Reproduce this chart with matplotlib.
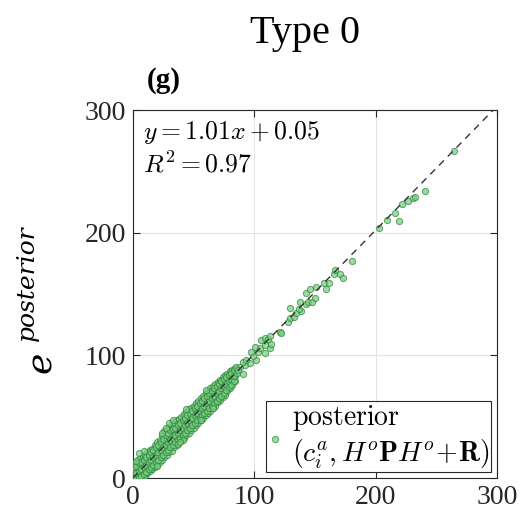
import matplotlib
matplotlib.use("Agg")
import matplotlib.pyplot as plt
import numpy as np

plt.rcParams['font.family'] = ['Liberation Serif', 'DejaVu Serif']
plt.rcParams['mathtext.fontset'] = 'cm'

# Error pairs: x = reference error, y = posterior error.
# Dense low-error band, listed column by column.
x_band_a = [0, 0, 0, 0, 2, 2, 2, 2, 4, 4, 4, 4, 6, 6, 6, 6, 8, 8, 8, 8,
            10, 10, 10, 10, 12, 12, 12, 12, 14, 14, 14, 14, 16, 16, 16, 16,
            18, 18, 18, 18, 20, 20, 20, 20, 22, 22, 22, 22, 24, 24, 24, 24,
            26, 26, 26, 26, 28, 28, 28, 28, 30, 30, 30, 30, 32, 32, 32, 32,
            34, 34, 34, 34, 36, 36, 36, 36, 38, 38, 38, 38, 40, 40, 40, 40,
            42, 42, 42, 42, 44, 44, 44, 44, 46, 46, 46, 46, 48, 48, 48, 48,
            50, 50, 50, 50, 52, 52, 52, 52, 54, 54, 54, 54, 56, 56, 56, 56,
            58, 58, 58, 58, 60, 60, 60, 60, 62, 62, 62, 62, 64, 64, 64, 64,
            66, 66, 66, 66, 68, 68, 68, 68, 70, 70, 70, 70, 72, 72, 72, 72,
            74, 74, 74, 74, 76, 76, 76, 76, 78, 78, 78, 78, 80, 80, 80, 80,
            82, 82, 82, 82, 84, 84, 84, 84]
y_band_a = [0.5, 3, 6, 9, 0, 4, 8, 12, 0, 5, 10, 15, 1, 6, 11, 16,
            1, 6, 12, 18, 2, 8, 14, 19, 4, 9, 15, 21, 6, 11, 17, 23,
            7, 13, 19, 24, 9, 15, 21, 27, 11, 16, 23, 29, 13, 19, 25, 31,
            15, 21, 28, 35, 17, 23, 30, 38, 19, 25, 31, 40, 21, 27, 33, 42,
            22, 29, 36, 44, 25, 31, 38, 46, 27, 33, 40, 47, 29, 35, 42, 48,
            31, 37, 43, 50, 33, 39, 45, 52, 35, 41, 47, 54, 37, 42, 49, 56,
            39, 45, 51, 57, 41, 47, 53, 59, 43, 48, 55, 61, 45, 51, 57, 63,
            47, 53, 59, 65, 49, 55, 61, 67, 51, 56, 63, 69, 53, 59, 65, 71,
            55, 61, 67, 73, 57, 63, 69, 75, 59, 64, 71, 77, 62, 67, 73, 78,
            64, 69, 75, 80, 66, 71, 77, 82, 68, 73, 79, 84, 71, 75, 81, 85,
            73, 77, 83, 87, 76, 80, 85, 88, 79, 83, 87, 90]

x_band_b = [1, 1, 1, 3, 3, 3, 5, 5, 5, 7, 7, 7, 9, 9, 9, 11, 11, 11,
            13, 13, 13, 15, 15, 15, 17, 17, 17, 19, 19, 19, 21, 21, 21,
            23, 23, 23, 25, 25, 25, 27, 27, 27, 29, 29, 29, 31, 31, 31,
            33, 33, 33, 35, 35, 35, 37, 37, 37, 39, 39, 39, 41, 41, 41,
            43, 43, 43, 45, 45, 45, 47, 47, 47, 49, 49, 49, 51, 51, 51,
            53, 53, 53, 55, 55, 55, 57, 57, 57, 59, 59, 59, 61, 61, 61,
            63, 63, 63, 65, 65, 65, 67, 67, 67, 69, 69, 69, 71, 71, 71,
            73, 73, 73, 75, 75, 75, 77, 77, 77, 79, 79, 79, 81, 81, 81,
            83, 83, 83,
            24, 27, 30, 33, 37, 41, 39, 20, 9, 5, 3, 56, 66, 44, 60]
y_band_b = [1, 5, 9, 0, 4, 10, 1, 6, 12, 2, 7, 13, 3, 9, 15, 5, 11, 17,
            7, 13, 19, 9, 15, 21, 11, 17, 23, 13, 19, 25, 15, 21, 27,
            17, 23, 29, 19, 25, 32, 21, 27, 35, 23, 29, 37, 25, 31, 39,
            27, 33, 40, 29, 35, 41, 31, 37, 43, 33, 39, 45, 35, 41, 47,
            37, 43, 49, 39, 45, 51, 41, 47, 53, 43, 49, 55, 45, 51, 57,
            47, 53, 59, 49, 55, 61, 51, 57, 63, 53, 59, 65, 55, 61, 67,
            57, 63, 69, 59, 65, 71, 61, 67, 73, 63, 69, 75, 65, 71, 77,
            67, 73, 79, 69, 75, 81, 72, 77, 82, 74, 79, 84, 76, 81, 86,
            79, 83, 88,
            37, 41, 45, 47, 28, 31, 29, 10, 22, 20, 14, 47, 57, 56, 72]

# Sparse high-error tail
x_tail = [84.8, 88.1, 92.2, 90.8, 96.3, 93.6, 101.8, 99.0, 97.1, 103.1,
          100.4, 105.1, 108.6, 112.8, 108.6, 114.2, 105.9, 108.6, 111.4,
          113.3, 121.5, 122.4, 90.8, 86.0, 87.0,
          127.8, 129.2, 132.5, 134.7, 138.8, 129.8, 136.9, 137.4, 142.9,
          144.3, 147.9, 149.8, 142.9, 146.2, 151.2, 159.4, 157.2, 161.6,
          170.4, 173.0, 166.0, 166.5, 180.5, 202.7, 209.3, 219.5, 216.2,
          221.6, 226.6, 231.0, 232.7, 241.0, 265.0]
y_tail = [90.2, 90.7, 92.1, 94.8, 93.5, 96.2, 96.2, 99.4, 102.9, 102.9,
          107.0, 105.7, 101.6, 105.7, 108.4, 109.2, 112.5, 113.8, 113.0,
          115.7, 119.4, 118.0, 84.8, 86.0, 88.0,
          127.4, 130.2, 131.5, 134.2, 136.3, 138.3, 137.5, 143.7, 141.8,
          143.7, 143.7, 146.4, 151.0, 153.8, 155.4, 153.8, 158.7, 159.2,
          166.0, 162.7, 166.3, 169.8, 177.1, 203.5, 210.3, 209.2, 215.7,
          223.5, 226.0, 228.0, 228.8, 234.0, 266.5]

slope = 1.01
intercept = 0.05
r_squared = 0.97
ticks = [0, 100, 200, 300]

x_all = np.array(x_band_a + x_band_b + x_tail)
y_all = np.array(y_band_a + y_band_b + y_tail)

fig = plt.figure(figsize=(5.23, 5.16), dpi=100)
ax = fig.add_axes([0.254, 0.0736, 0.696, 0.713])

ax.scatter(x_all, y_all, s=20, facecolor='#7ccb84', edgecolor='#2c8a3a',
           linewidth=0.75, alpha=0.72, zorder=3,
           label='$\\mathrm{posterior}$\n$(c_i^a, H^o\\mathbf{P}H^o\\!+\\!\\mathbf{R})$')

fit_x = np.array([0, 300])
ax.plot(fit_x, slope * fit_x + intercept, color='#333333', lw=1.0,
        ls=(0, (5, 4)), zorder=4)

ax.set_xlim(0, 300)
ax.set_ylim(0, 300)
ax.set_xticks(ticks)
ax.set_yticks(ticks)
ax.tick_params(direction='in', top=True, right=True, length=5, width=0.8,
               labelsize=20, colors='#262626', pad=5)
ax.grid(color='#e3e3e3', lw=0.8)
ax.set_axisbelow(True)
for sp in ax.spines.values():
    sp.set_color('#262626')
    sp.set_linewidth(0.8)

ax.text(0.027, 0.975, f'$y = {slope}x + {intercept}$\n$R^2 = {r_squared}$',
        transform=ax.transAxes, ha='left', va='top', fontsize=18.5,
        linespacing=1.2, zorder=5)

leg = ax.legend(loc='lower right', fontsize=20, frameon=True, fancybox=False,
                edgecolor='#262626', framealpha=1, borderaxespad=0.22,
                handletextpad=0.3, handlelength=0.6, borderpad=0.05,
                markerscale=1.0)
leg.get_frame().set_linewidth(0.8)

fig.text(0.584, 0.9167, 'Type 0', ha='center', va='baseline', fontsize=29)
fig.text(0.281, 0.831, '(g)', ha='left', va='baseline', fontsize=21,
         fontweight='bold')

# y-axis label: italic e with a raised "posterior"
fig.text(41 / 523, 1 - 362 / 516, 'e', rotation=90, ha='center', va='center',
         fontsize=26, family='DejaVu Serif', style='italic')
fig.text(27 / 523, 1 - 283 / 516, 'posterior', rotation=90, ha='center',
         va='center', fontsize=18, family='DejaVu Serif', style='italic')

fig.savefig('out.png', dpi=100)
